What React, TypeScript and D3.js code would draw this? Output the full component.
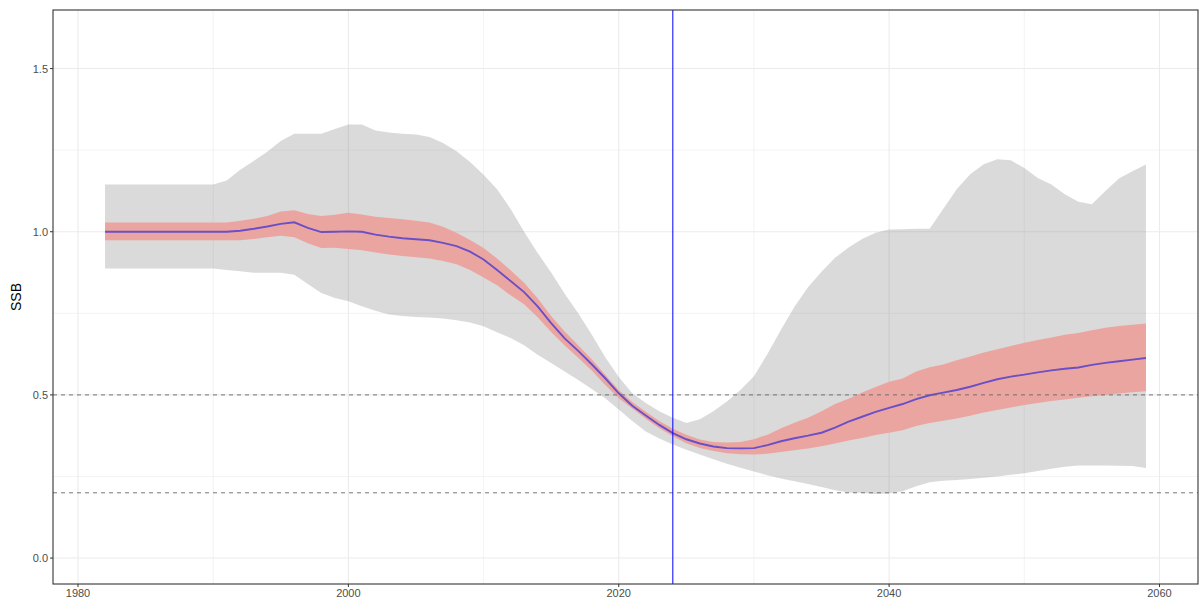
import React from "react";
import * as d3 from "d3";

// years 1982..2059
const years = d3.range(1982, 2060);

const median = [
  1.0, 1.0, 1.0, 1.0, 1.0, 1.0, 1.0, 1.0, 1.0, 1.0, // 1982-1991
  1.003, 1.009, 1.016, 1.024, 1.029, 1.012, 0.999, 1.0, 1.001, 1.0, // 1992-2001
  0.991, 0.985, 0.98, 0.977, 0.974, 0.966, 0.956, 0.939, 0.915, 0.883, // 2002-2011
  0.849, 0.815, 0.771, 0.72, 0.673, 0.635, 0.594, 0.551, 0.505, 0.467, // 2012-2021
  0.437, 0.408, 0.383, 0.364, 0.351, 0.342, 0.337, 0.336, 0.337, 0.346, // 2022-2031
  0.358, 0.367, 0.375, 0.384, 0.4, 0.418, 0.433, 0.448, 0.46, 0.472, // 2032-2041
  0.487, 0.499, 0.507, 0.515, 0.525, 0.537, 0.548, 0.556, 0.562, 0.569, // 2042-2051
  0.575, 0.58, 0.584, 0.592, 0.598, 0.603, 0.608, 0.613, // 2052-2059
];

const innerLow = [
  0.974, 0.974, 0.974, 0.974, 0.974, 0.974, 0.974, 0.974, 0.974, 0.974,
  0.974, 0.978, 0.983, 0.988, 0.983, 0.965, 0.95, 0.951, 0.947, 0.943,
  0.936, 0.93, 0.926, 0.922, 0.918, 0.91, 0.9, 0.883, 0.86, 0.836,
  0.805, 0.778, 0.738, 0.693, 0.651, 0.614, 0.575, 0.53, 0.49, 0.458,
  0.427, 0.398, 0.373, 0.352, 0.337, 0.328, 0.321, 0.318, 0.317, 0.32,
  0.325, 0.33, 0.336, 0.343, 0.351, 0.36, 0.368, 0.377, 0.384, 0.392,
  0.405, 0.414, 0.421, 0.428, 0.436, 0.446, 0.454, 0.461, 0.469, 0.475,
  0.481, 0.486, 0.491, 0.496, 0.5, 0.504, 0.508, 0.511,
];

const innerHigh = [
  1.028, 1.028, 1.028, 1.028, 1.028, 1.028, 1.028, 1.028, 1.028, 1.028,
  1.034, 1.04, 1.048, 1.062, 1.066, 1.054, 1.048, 1.052, 1.058, 1.053,
  1.046, 1.042, 1.038, 1.034, 1.028, 1.015, 0.997, 0.975, 0.95, 0.918,
  0.882, 0.844, 0.796, 0.742, 0.694, 0.652, 0.609, 0.562, 0.515, 0.478,
  0.448, 0.42, 0.396, 0.378, 0.363, 0.356, 0.354, 0.356, 0.364, 0.378,
  0.398, 0.415, 0.43, 0.45, 0.472, 0.488, 0.507, 0.524, 0.54, 0.55,
  0.572, 0.585, 0.593, 0.606, 0.618, 0.63, 0.64, 0.65, 0.66, 0.668,
  0.676, 0.684, 0.69, 0.698, 0.706, 0.711, 0.715, 0.719,
];

const outerLow = [
  0.887, 0.887, 0.887, 0.887, 0.887, 0.887, 0.887, 0.887, 0.887, 0.883,
  0.879, 0.874, 0.874, 0.874, 0.868, 0.84, 0.812, 0.797, 0.787, 0.772,
  0.758, 0.746, 0.742, 0.739, 0.737, 0.734, 0.729, 0.722, 0.71, 0.692,
  0.674, 0.652, 0.623, 0.598, 0.572, 0.546, 0.518, 0.49, 0.455, 0.42,
  0.388, 0.366, 0.348, 0.332, 0.317, 0.303, 0.289, 0.277, 0.265, 0.254,
  0.244, 0.235, 0.227, 0.218, 0.208, 0.201, 0.199, 0.196, 0.198, 0.205,
  0.22, 0.232, 0.237, 0.239, 0.242, 0.246, 0.25, 0.255, 0.26, 0.267,
  0.274, 0.28, 0.284, 0.284, 0.284, 0.283, 0.282, 0.276,
];

const outerHigh = [
  1.145, 1.145, 1.145, 1.145, 1.145, 1.145, 1.145, 1.145, 1.145, 1.157,
  1.19, 1.217, 1.245, 1.278, 1.3, 1.3, 1.3, 1.315, 1.329, 1.329,
  1.31, 1.304, 1.3, 1.298, 1.29, 1.272, 1.247, 1.214, 1.175, 1.13,
  1.07, 1.0, 0.935, 0.875, 0.81, 0.75, 0.685, 0.615, 0.555, 0.505,
  0.475, 0.45, 0.43, 0.414, 0.425, 0.45, 0.48, 0.515, 0.557, 0.625,
  0.7, 0.77, 0.83, 0.877, 0.92, 0.952, 0.978, 0.997, 1.007, 1.008,
  1.009, 1.009, 1.07, 1.13, 1.176, 1.207, 1.222, 1.219, 1.195, 1.165,
  1.145, 1.115, 1.092, 1.084, 1.125, 1.163, 1.185, 1.206,
];

const xTicks = [1980, 2000, 2020, 2040, 2060];
const xMinor = [1990, 2010, 2030, 2050];
const yTicks = [0, 0.5, 1.0, 1.5];
const yMinor = [0.25, 0.75, 1.25];
const refLines = [0.5, 0.2];
const currentYear = 2024;

const W = 1203;
const H = 611;
const m = { left: 53, right: 5, top: 10, bottom: 27 };

export default function App() {
  const x = d3.scaleLinear().domain([1978.15, 2062.85]).range([m.left, W - m.right]);
  const y = d3.scaleLinear().domain([-0.0795, 1.6795]).range([H - m.bottom, m.top]);

  const rows = years.map((yr, i) => ({
    yr,
    med: median[i],
    lo: innerLow[i],
    hi: innerHigh[i],
    olo: outerLow[i],
    ohi: outerHigh[i],
  }));

  const outerArea = d3.area<any>().x((d) => x(d.yr)).y0((d) => y(d.olo)).y1((d) => y(d.ohi));
  const innerArea = d3.area<any>().x((d) => x(d.yr)).y0((d) => y(d.lo)).y1((d) => y(d.hi));
  const medLine = d3.line<any>().x((d) => x(d.yr)).y((d) => y(d.med));

  const x0 = m.left;
  const x1 = W - m.right;
  const y0 = H - m.bottom;
  const y1 = m.top;
  const font = "Liberation Sans, Arial, sans-serif";

  return (
    <div style={{ position: "absolute", left: 0, top: 0 }}>
      <svg width={W} height={H} style={{ display: "block", background: "#fff" }}>
        {/* grid */}
        {xMinor.map((t) => (
          <line key={"xm" + t} x1={x(t)} x2={x(t)} y1={y0} y2={y1} stroke="#EBEBEB" strokeWidth={0.6} />
        ))}
        {yMinor.map((t) => (
          <line key={"ym" + t} x1={x0} x2={x1} y1={y(t)} y2={y(t)} stroke="#EBEBEB" strokeWidth={0.6} />
        ))}
        {xTicks.map((t) => (
          <line key={"xg" + t} x1={x(t)} x2={x(t)} y1={y0} y2={y1} stroke="#EBEBEB" strokeWidth={1.1} />
        ))}
        {yTicks.map((t) => (
          <line key={"yg" + t} x1={x0} x2={x1} y1={y(t)} y2={y(t)} stroke="#EBEBEB" strokeWidth={1.1} />
        ))}

        {/* ribbons and median */}
        <path d={outerArea(rows) ?? ""} fill="#7F7F7F" fillOpacity={0.29} />
        <path d={innerArea(rows) ?? ""} fill="#EBA5A1" />
        <path d={medLine(rows) ?? ""} fill="none" stroke="#6A4FC6" strokeWidth={1.9} />

        {/* reference lines */}
        {refLines.map((v) => (
          <line key={"r" + v} x1={x0} x2={x1} y1={y(v)} y2={y(v)} stroke="#666" strokeWidth={0.9} strokeDasharray="4,4" />
        ))}
        <line x1={x(currentYear)} x2={x(currentYear)} y1={y0} y2={y1} stroke="#0000FF" strokeWidth={1} />

        {/* panel border */}
        <rect x={x0} y={y1} width={x1 - x0} height={y0 - y1} fill="none" stroke="#333" strokeWidth={1.1} />

        {/* x axis */}
        {xTicks.map((t) => (
          <g key={"xt" + t}>
            <line x1={x(t)} x2={x(t)} y1={y0} y2={y0 + 3} stroke="#333" strokeWidth={1} />
            <text x={x(t)} y={y0 + 13} textAnchor="middle" fontSize={11} fill="#4D4D4D" fontFamily={font}>
              {t}
            </text>
          </g>
        ))}

        {/* y axis */}
        {yTicks.map((t) => (
          <g key={"yt" + t}>
            <line x1={x0 - 3} x2={x0} y1={y(t)} y2={y(t)} stroke="#333" strokeWidth={1} />
            <text x={x0 - 5} y={y(t) + 4} textAnchor="end" fontSize={11} fill="#4D4D4D" fontFamily={font}>
              {t.toFixed(1)}
            </text>
          </g>
        ))}
        <text
          transform={`translate(21, ${(y0 + y1) / 2}) rotate(-90)`}
          textAnchor="middle"
          fontSize={14}
          fill="#000"
          fontFamily={font}
        >
          SSB
        </text>
      </svg>
    </div>
  );
}
